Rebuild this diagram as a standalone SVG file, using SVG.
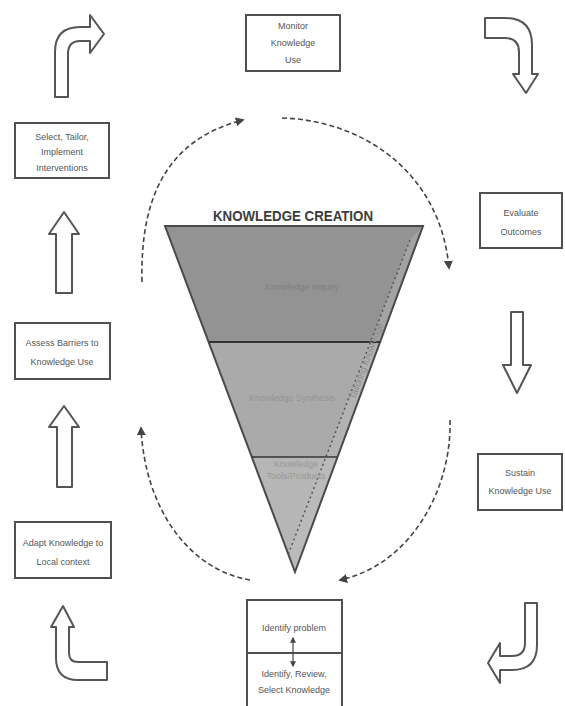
<svg xmlns="http://www.w3.org/2000/svg" width="565" height="706" viewBox="0 0 565 706">
<defs>
<style>
.box{fill:#fff;stroke:#505050;stroke-width:2}
.t{font-family:"Liberation Sans",Arial,sans-serif;font-size:9px;fill:#555;text-anchor:middle}
.blk{fill:#fff;stroke:#555;stroke-width:2;stroke-linejoin:round}
.dash{fill:none;stroke:#444;stroke-width:1.6;stroke-dasharray:5 3}
.ft{font-family:"Liberation Sans",Arial,sans-serif;font-size:9px;text-anchor:middle}
</style>
<marker id="ah" viewBox="0 0 10 10" refX="8" refY="5" markerWidth="9" markerHeight="9" markerUnits="userSpaceOnUse" orient="auto">
<path d="M0,0 L10,5 L0,10 z" fill="#444"/>
</marker>
<marker id="sa" viewBox="0 0 10 10" refX="8" refY="5" markerWidth="6" markerHeight="6" markerUnits="userSpaceOnUse" orient="auto-start-reverse">
<path d="M0,0 L10,5 L0,10 z" fill="#444"/>
</marker>
</defs>
<rect width="565" height="706" fill="#fff"/>

<g id="funnel">
<polygon points="165,226 423,226 380,342 209,342" fill="#939393"/>
<polygon points="209,342 380,342 337,457 252,457" fill="#aaaaaa"/>
<polygon points="252,457 337,457 295,572" fill="#b6b6b6"/>
<polygon points="410,240 423,226 295,572 288,555" fill="#c4c4c4" opacity="0.35"/>
<line x1="410" y1="240" x2="288" y2="555" stroke="#555" stroke-width="1.5" stroke-dasharray="2 3"/>
<polygon points="165,226 423,226 295,572" fill="none" stroke="#4a4a4a" stroke-width="2"/>
<line x1="209" y1="342" x2="380" y2="342" stroke="#333" stroke-width="1.8"/>
<line x1="252" y1="457" x2="337" y2="457" stroke="#333" stroke-width="1.5"/>
<text x="293" y="221" font-family="'Liberation Sans',Arial,sans-serif" font-size="15" font-weight="bold" fill="#3c3c3c" text-anchor="middle" textLength="160" lengthAdjust="spacingAndGlyphs">KNOWLEDGE CREATION</text>
<text class="ft" x="302" y="290" fill="#808080">Knowledge Inquiry</text>
<text class="ft" x="292" y="401" fill="#959595">Knowledge Synthesis</text>
<text class="ft" x="296" y="467" fill="#989898" font-size="8">Knowledge</text>
<text class="ft" x="296" y="479" fill="#989898" font-size="8">Tools/Products</text>
<text class="ft" x="369" y="362" fill="#8a8a8a" font-size="7" transform="rotate(-69.7 369 362)">Tailoring Knowledge</text>
</g>

<g id="connectors">
<path class="dash" d="M142,282 C140,200 165,140 243,120" marker-end="url(#ah)"/>
<path class="dash" d="M282,118 C360,120 440,170 449,268" marker-end="url(#ah)"/>
<path class="dash" d="M450,420 C452,490 410,565 340,580" marker-end="url(#ah)"/>
<path class="dash" d="M250,580 C190,570 145,510 141,428" marker-end="url(#ah)"/>
<path class="blk" d="M55,97 L55,52 Q55,27 80,27 L90,27 L90,15 L104,34 L90,53 L90,41 L80,41 Q68,41 68,54 L68,97 Z"/>
<path class="blk" d="M485,18 L505,18 Q532,18 532,45 L532,74 L538,74 L526,93 L513,74 L519,74 L519,52 Q519,38 505,38 L485,38 Z"/>
<path class="blk" d="M511,312 L523,312 L523,365 L531,365 L517,393 L503,365 L511,365 Z"/>
<path class="blk" d="M525,603 L537,603 L537,645 Q537,670 512,670 L500,670 L500,683 L488,663 L500,643 L500,656 L512,656 Q525,656 525,643 Z"/>
<path class="blk" d="M63,606 L74,627 L69,627 L69,653 Q69,662 78,662 L107,662 L107,680 L78,680 Q56,680 56,658 L56,627 L51,627 Z"/>
<path class="blk" d="M64,212 L79,234 L72,234 L72,293 L56,293 L56,234 L49,234 Z"/>
<path class="blk" d="M64,406 L79,427 L72,427 L72,487 L57,487 L57,427 L49,427 Z"/>
</g>

<g id="monitor">
<rect class="box" x="246" y="15" width="94" height="56"/>
<text class="t" x="293" y="29">Monitor</text>
<text class="t" x="293" y="46">Knowledge</text>
<text class="t" x="293" y="63">Use</text>
</g>

<g id="evaluate">
<rect class="box" x="480" y="193" width="82" height="55"/>
<text class="t" x="521" y="216">Evaluate</text>
<text class="t" x="521" y="235">Outcomes</text>
</g>

<g id="sustain">
<rect class="box" x="478" y="454" width="84" height="56"/>
<text class="t" x="520" y="476">Sustain</text>
<text class="t" x="520" y="494">Knowledge Use</text>
</g>

<g id="identify">
<rect class="box" x="247" y="600" width="95" height="112"/>
<line x1="247" y1="653" x2="342" y2="653" stroke="#505050" stroke-width="2"/>
<text class="t" x="294" y="631">Identify problem</text>
<text class="t" x="294" y="677">Identify, Review,</text>
<text class="t" x="294" y="693">Select Knowledge</text>
<line x1="293" y1="638" x2="293" y2="666" stroke="#444" stroke-width="1.2" marker-start="url(#sa)" marker-end="url(#sa)"/>
</g>

<g id="adapt">
<rect class="box" x="15" y="522" width="96" height="56"/>
<text class="t" x="63" y="546">Adapt Knowledge to</text>
<text class="t" x="63" y="565">Local context</text>
</g>

<g id="assess">
<rect class="box" x="15" y="323" width="95" height="56"/>
<text class="t" x="62" y="346">Assess Barriers to</text>
<text class="t" x="62" y="365">Knowledge Use</text>
</g>

<g id="select">
<rect class="box" x="15" y="123" width="94" height="55"/>
<text class="t" x="62" y="140">Select, Tailor,</text>
<text class="t" x="62" y="155">Implement</text>
<text class="t" x="62" y="171">Interventions</text>
</g>
</svg>
